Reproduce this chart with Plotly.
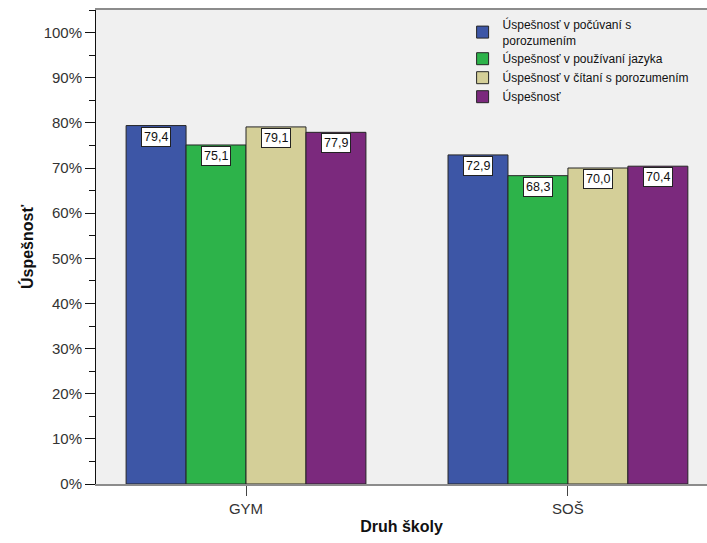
import plotly.graph_objects as go

categories = ["GYM", "SOŠ"]
series_names = [
    "Úspešnosť v počúvaní s<br>porozumením",
    "Úspešnosť v používaní jazyka",
    "Úspešnosť v čítaní s porozumením",
    "Úspešnosť",
]
series_values = [
    [79.4, 72.9],
    [75.1, 68.3],
    [79.1, 70.0],
    [77.9, 70.4],
]
value_labels = [
    ["79,4", "72,9"],
    ["75,1", "68,3"],
    ["79,1", "70,0"],
    ["77,9", "70,4"],
]
colors = ["#3D56A6", "#2DB34A", "#D4CF98", "#7B297D"]
y_ticks = list(range(0, 101, 10))
y_ticklabels = [f"{v}%" for v in y_ticks]

FONT = "Liberation Sans, Arial, sans-serif"

fig = go.Figure()
for name, vals, col in zip(series_names, series_values, colors):
    fig.add_trace(go.Bar(
        x=categories, y=vals, name=name,
        marker=dict(color=col, line=dict(color="#262626", width=1)),
    ))

bargap = 0.255
n = len(series_values)
bw = (1 - bargap) / n
annotations = []
for j, (vals, labs) in enumerate(zip(series_values, value_labels)):
    for i, (v, lab) in enumerate(zip(vals, labs)):
        annotations.append(dict(
            x=i + (j - (n - 1) / 2) * bw, y=v, xref="x", yref="y",
            text=lab, showarrow=False, yanchor="top", yshift=-1,
            bgcolor="white", bordercolor="#222222", borderwidth=1, borderpad=2,
            font=dict(family=FONT, size=12.5, color="#111111"),
        ))

fig.update_layout(
    width=707, height=543,
    margin=dict(l=96, r=0, t=10, b=59),
    paper_bgcolor="white", plot_bgcolor="#F0F0F0",
    barmode="group", bargap=bargap, bargroupgap=0,
    font=dict(family=FONT, size=15, color="#333333"),
    showlegend=True,
    legend=dict(
        x=0.60, y=1.0, xanchor="left", yanchor="top",
        bgcolor="rgba(0,0,0,0)", font=dict(family=FONT, size=12, color="#111111"),
        tracegroupgap=0, itemwidth=30,
    ),
    annotations=annotations,
    xaxis=dict(
        type="category", range=[-0.466, 1.432],
        showline=True, linecolor="#8C8C8C", linewidth=2, mirror=True,
        ticks="outside", ticklen=10, tickcolor="#444444", tickwidth=1,
        tickfont=dict(size=15, color="#333333"),
        title=dict(text="<b>Druh školy</b>", font=dict(size=16, color="#111111"), standoff=5),
        showgrid=False, zeroline=False,
    ),
    yaxis=dict(
        range=[0, 105],
        tickvals=y_ticks, ticktext=y_ticklabels,
        showline=True, linecolor="#111111", linewidth=1,
        ticks="outside", ticklen=10, tickcolor="#111111", tickwidth=1,
        minor=dict(dtick=5, ticks="outside", ticklen=6, tickcolor="#111111", tickwidth=1),
        tickfont=dict(size=15, color="#333333"),
        title=dict(text="<b>Úspešnosť</b>", font=dict(size=16, color="#111111"), standoff=6),
        showgrid=False, zeroline=False,
    ),
)

fig.write_html(
    "out.html",
    config={"displayModeBar": False},
    post_script="document.body.style.margin='0';document.body.style.overflow='hidden';",
)
